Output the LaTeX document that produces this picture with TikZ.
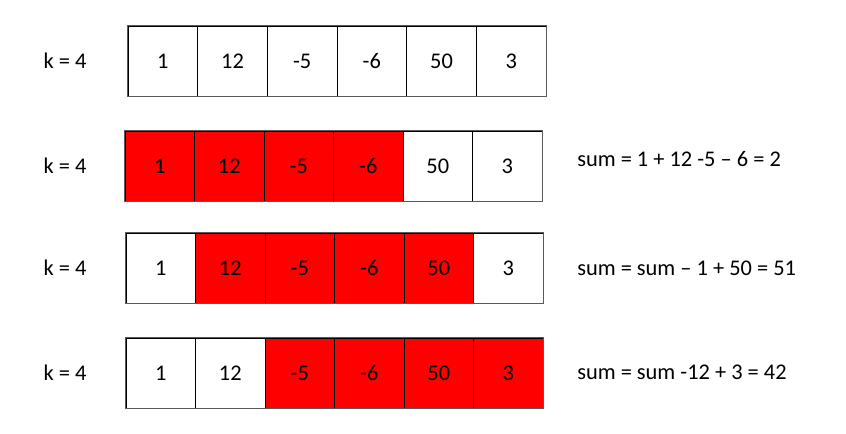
\documentclass[tikz,border=0pt]{standalone}
\usepackage{fontspec}
\setmainfont{Carlito}
\tikzset{cell/.style={draw=black, line width=0.6pt, minimum height=52.5pt, inner sep=0pt, font=\fontsize{16.8}{20}\selectfont},
  rowframe/.style={draw=black!65, line width=1.3pt},
  lbl/.style={font=\fontsize{16.8}{20}\selectfont, inner sep=0pt}}

\begin{document}
\begin{tikzpicture}[x=0.75pt, y=-0.75pt]
  \useasboundingbox (0,0) rectangle (846,434);

  % row / left / middle / cell width / first and last red cell
  \foreach \r/\xl/\ym/\w/\ra/\rb in {1/128/61/69.67/0/0, 2/125/166/69.5/1/4, 3/126/268/69.5/2/5, 4/126/373/69.5/3/6} {
    \foreach \v [count=\c] in {1,12,-5,-6,50,3} {
      \ifnum\c<\ra \def\cf{white}\else\ifnum\c>\rb \def\cf{white}\else\def\cf{red}\fi\fi
      \node [cell, fill=\cf, minimum width=\w*0.75pt] (c\r-\c) at ({\xl+(\c-0.5)*\w}, \ym) {\v};
    }
    \draw [rowframe] (c\r-1.north west) rectangle (c\r-6.south east);
    \node [lbl] (k\r) at (65, \ym) {k = 4};
  }

  \node [lbl, anchor=west] (s2) at (577, 159) {sum = 1 + 12 -5 – 6 = 2};
  \node [lbl, anchor=west] (s3) at (577, 268) {sum = sum – 1 + 50 = 51};
  \node [lbl, anchor=west] (s4) at (577, 372) {sum = sum -12 + 3 = 42};
\end{tikzpicture}
\end{document}
